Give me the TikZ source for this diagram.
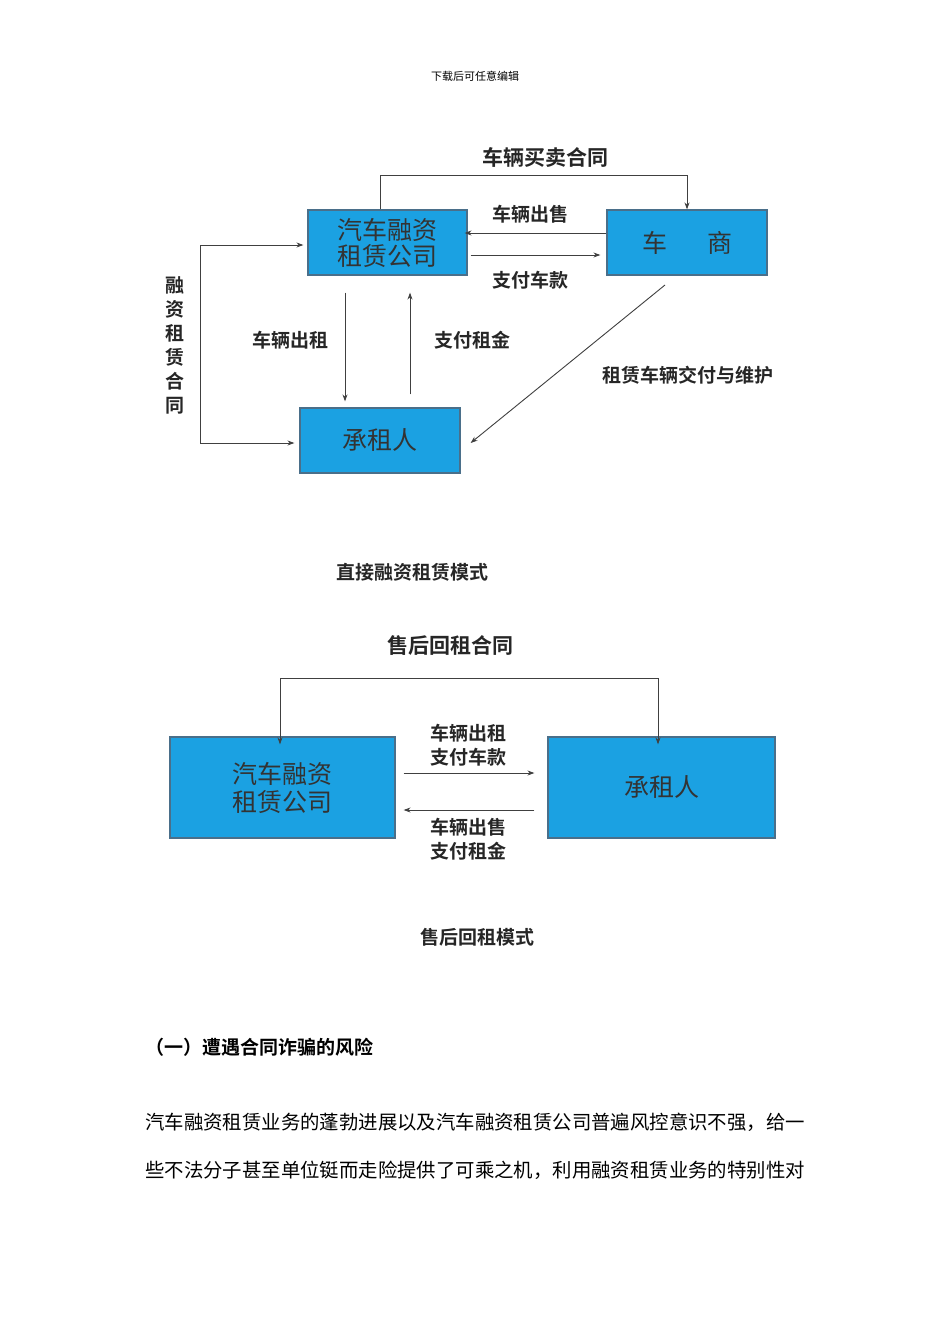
\documentclass[tikz,border=0pt]{standalone}
\usepackage{fontspec}
\setmainfont{Noto Sans CJK SC}
\newfontfamily\cjkb{Noto Sans CJK SC Bold}
\usetikzlibrary{arrows.meta}
\definecolor{boxblue}{HTML}{1BA1E2}
\definecolor{boxedge}{HTML}{4A6F8A}
\tikzset{
 bluebox/.style={draw=boxedge,line width=1.2pt,fill=boxblue,inner sep=0pt,font=\fontsize{25}{30}\selectfont,text=black!80,align=center},
 lbl/.style={font=\cjkb\fontsize{19}{22}\selectfont,inner sep=0pt,align=center,text=black!85},
 conn/.style={draw=black!75,line width=0.9pt},
 arr/.style={conn,-{Stealth[length=7pt,width=5pt]}}
}
\begin{document}
\begin{tikzpicture}[x=1pt,y=-1pt]
\useasboundingbox[fill=white] (0,0) rectangle (950,1344);
\node[font=\fontsize{11}{13}\selectfont] (hdr) at (475,76) {下载后可任意编辑};
% diagram 1
\node[bluebox,minimum width=159pt,minimum height=65pt] (co) at (387.5,242.5) {汽车融资\\[-4pt]租赁公司};
\node[bluebox,minimum width=160pt,minimum height=65pt] (dl) at (687,242.5) {车\hspace{1.6em}商};
\node[bluebox,minimum width=160pt,minimum height=65pt] (ls) at (380,440.5) {承租人};
\node[lbl,font=\cjkb\fontsize{21}{24}\selectfont] (t1) at (545,157) {车辆买卖合同};
\coordinate (a1) at (380,175); \coordinate (a2) at (687,175);
\draw[arr] (co.north -| a1) -- (a1) -- (a2) -- (dl.north);
\draw[arr] (dl.west |- 0,233) -- ([xshift=-3pt]co.east |- 0,233);
\node[lbl] (l1) at (530,214) {车辆出售};
\draw[arr] ([xshift=3pt]co.east |- 0,255) -- ([xshift=-6pt]dl.west |- 0,255);
\node[lbl] (l2) at (530,280) {支付车款};
\coordinate (b1) at (200,245); \coordinate (b2) at (200,443);
\draw[arr] (b1) -- ([xshift=-4pt]co.west |- b1);
\draw[arr] (b1) -- (b2) -- ([xshift=-5pt]ls.west |- b2);
\node[lbl,text width=20pt] (l3) at (175,345) {融\\[2pt]资\\[2pt]租\\[2pt]赁\\[2pt]合\\[2pt]同};
\draw[arr] ([yshift=-17pt]co.south -| 345,0) -- ([yshift=6pt]ls.north -| 345,0);
\node[lbl] (l4) at (290,340) {车辆出租};
\draw[arr] ([yshift=13pt]ls.north -| 410,0) -- ([yshift=-17pt]co.south -| 410,0);
\node[lbl] (l5) at (472,340) {支付租金};
\coordinate (c1) at (665,285);
\draw[arr] (c1) -- ([xshift=10pt]ls.east |- 0,443);
\node[lbl] (l6) at (688,375) {租赁车辆交付与维护};
\node[lbl] (cap1) at (412,572) {直接融资租赁模式};
% diagram 2
\node[lbl,font=\cjkb\fontsize{21}{24}\selectfont] (t2) at (450,645) {售后回租合同};
\node[bluebox,minimum width=225pt,minimum height=101pt] (co2) at (282.5,787.5) {汽车融资\\[-2pt]租赁公司};
\node[bluebox,minimum width=227pt,minimum height=101pt] (ls2) at (661.5,787.5) {承租人};
\coordinate (d1) at (280,678); \coordinate (d2) at (658,678);
\draw[arr] (d1) -- ([yshift=-8pt]co2.north -| d1);
\draw[arr] (d1) -- (d2) -- ([yshift=-8pt]ls2.north -| d2);
\draw[arr] ([xshift=8pt]co2.east |- 0,773) -- ([xshift=-13pt]ls2.west |- 0,773);
\node[lbl] (l7) at (468,745) {车辆出租\\[2pt]支付车款};
\draw[arr] ([xshift=-13pt]ls2.west |- 0,810) -- ([xshift=8pt]co2.east |- 0,810);
\node[lbl] (l8) at (468,839) {车辆出售\\[2pt]支付租金};
\node[lbl] (cap2) at (477,937) {售后回租模式};
% text
\node[font=\cjkb\fontsize{19}{22}\selectfont,anchor=west,inner sep=0pt] (h) at (145,1047) {（一）遭遇合同诈骗的风险};
\node[font=\fontsize{19.4}{22}\selectfont,anchor=west,inner sep=0pt] (p1) at (145,1122) {汽车融资租赁业务的蓬勃进展以及汽车融资租赁公司普遍风控意识不强，给一};
\node[font=\fontsize{19.4}{22}\selectfont,anchor=west,inner sep=0pt] (p2) at (145,1170) {些不法分子甚至单位铤而走险提供了可乘之机，利用融资租赁业务的特别性对};
\end{tikzpicture}
\end{document}
